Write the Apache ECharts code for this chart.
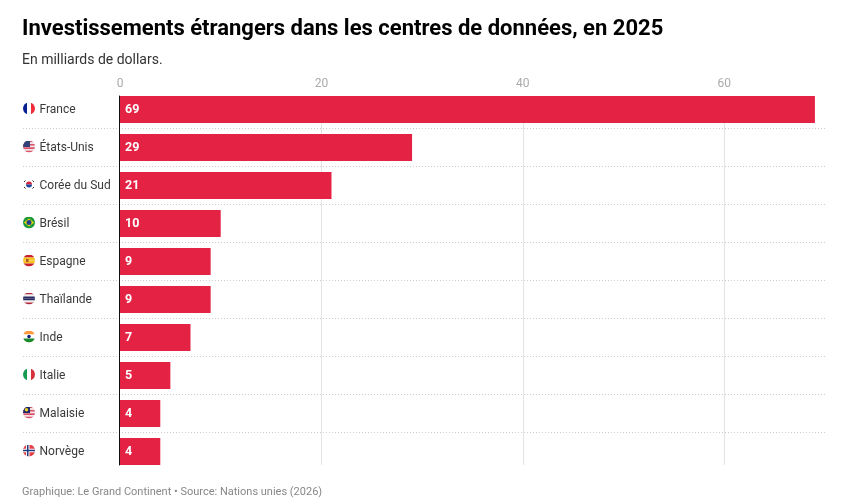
<!DOCTYPE html>
<html><head><meta charset="utf-8">
<style>html,body{margin:0;padding:0;background:#fff}#c{width:863px;height:503px}</style>
<script src="https://cdn.jsdelivr.net/npm/echarts@6/dist/echarts.min.js"></script>
</head><body><div id="c"></div>
<script>
const countries = ["France","États-Unis","Corée du Sud","Brésil","Espagne","Thaïlande","Inde","Italie","Malaisie","Norvège"];
const values = [69,29,21,10,9,9,7,5,4,4];
const flagKeys = ["fr","us","kr","br","es","th","in","it","my","no"];
const titleText = "Investissements étrangers dans les centres de données, en 2025";
const subtitleText = "En milliards de dollars.";
const footerText = "Graphique: Le Grand Continent • Source: Nations unies (2026)";

const stripesH = (cols)=>{const h=24/cols.length;return cols.map((c,i)=>`<rect x="0" y="${i*h}" width="24" height="${h+0.2}" fill="${c}"/>`).join('')};
const stripesV = (cols)=>{const w=24/cols.length;return cols.map((c,i)=>`<rect x="${i*w}" y="0" width="${w+0.2}" height="24" fill="${c}"/>`).join('')};
const usStripes = stripesH(["#d8536a","#f3e3e6","#d8536a","#f3e3e6","#d8536a","#f3e3e6","#d8536a"]);
const flagArt = {
  fr: stripesV(["#0a1f8f","#ffffff","#ef2b3c"]),
  us: usStripes+'<rect width="14" height="13" fill="#33407a"/>',
  kr: '<rect width="24" height="24" fill="#fff"/><path d="M6 12a6 6 0 0 1 12 0z" fill="#d8243c"/><path d="M6 12a6 6 0 0 0 12 0z" fill="#1f4a9c"/><g stroke="#222" stroke-width="2"><path d="M2 7l3-3M19 4l3 3M2 17l3 3M19 20l3-3"/></g>',
  br: '<rect width="24" height="24" fill="#1a9a3c"/><path d="M12 4l10 8-10 8-10-8z" fill="#f5d90a"/><circle cx="12" cy="12" r="5" fill="#1f3f8f"/>',
  es: stripesH(["#c8202c","#f6c324","#f6c324","#c8202c"])+'<rect x="6" y="9" width="5" height="6" fill="#b5532a"/>',
  th: stripesH(["#b0263a","#f4f0f0","#252a60","#252a60","#f4f0f0","#b0263a"]),
  in: stripesH(["#ff9a3c","#ffffff","#1a8a2c"])+'<circle cx="12" cy="12" r="3.4" fill="#10207a"/>',
  it: stripesV(["#149a50","#ffffff","#d8303c"]),
  my: usStripes+'<rect width="14" height="13" fill="#1a2a6c"/><circle cx="7" cy="6.5" r="3.4" fill="#f5d020"/>',
  no: '<rect width="24" height="24" fill="#e5404a"/><rect x="6" width="7" height="24" fill="#fff"/><rect y="8.5" width="24" height="7" fill="#fff"/><rect x="8" width="3" height="24" fill="#1e3a80"/><rect y="10.5" width="24" height="3" fill="#1e3a80"/>'
};
const flagUri = (k)=>'data:image/svg+xml;charset=utf-8,'+encodeURIComponent(
 `<svg xmlns="http://www.w3.org/2000/svg" width="48" height="56" viewBox="0 0 24 28"><defs><clipPath id="c"><circle cx="12" cy="12" r="12"/></clipPath></defs><g clip-path="url(#c)">${flagArt[k]}</g></svg>`);
const rich = {name:{fontFamily:'Roboto',fontSize:12,color:'#3a3a3a',padding:[0,0,0,4.5]}};
flagKeys.forEach(k=>{rich[k]={width:12,height:14,backgroundColor:{image:flagUri(k)}}});

const font='Roboto';
const chart = echarts.init(document.getElementById('c'),null,{renderer:'canvas'});
chart.setOption({
  animation:false,
  backgroundColor:'#fff',
  title:[
    {text:titleText,left:22,top:18,padding:0,textStyle:{fontFamily:font,fontSize:22,fontWeight:700,color:'#000'}},
    {text:subtitleText,left:22,top:53,padding:0,textStyle:{fontFamily:font,fontSize:14,fontWeight:400,color:'#333'}},
    {text:footerText,left:22,top:487,padding:0,textStyle:{fontFamily:font,fontSize:11,fontWeight:400,color:'#888'}}
  ],
  grid:[
    {left:23,width:802,top:90.5,height:380},
    {left:120,width:705,top:96,height:369},
    {left:120,width:705,top:90.5,height:380}
  ],
  xAxis:[
    {gridIndex:0,type:'value',min:0,max:1,show:false},
    {gridIndex:1,type:'value',position:'top',min:0,max:70,interval:20,
      axisLine:{show:false},axisTick:{show:false},
      axisLabel:{fontFamily:font,fontSize:12,color:'#aaa',margin:6,showMaxLabel:false},
      splitLine:{show:true,showMinLine:false,showMaxLine:false,lineStyle:{color:'#e4e4e4',width:1}}},
    {gridIndex:2,type:'value',min:0,max:70,show:false}
  ],
  yAxis:[
    {gridIndex:0,type:'category',inverse:true,data:countries,axisLine:{show:false},axisTick:{show:false},axisLabel:{show:false},
      splitLine:{show:true,showMinLine:false,showMaxLine:false,lineStyle:{color:'#ccc',type:[1,2],width:1}}},
    {gridIndex:1,type:'value',min:0,max:1,offset:1,
      axisLine:{show:true,onZero:false,lineStyle:{color:'#111',width:1}},axisTick:{show:false},axisLabel:{show:false},splitLine:{show:false}},
    {gridIndex:2,type:'category',inverse:true,data:countries,z:5,axisLine:{show:false},axisTick:{show:false},
      axisLabel:{margin:97,align:'left',interval:0,rich,
        formatter:(v,i)=>`{${flagKeys[i]}|}{name|${v}}`}}
  ],
  series:[{
    type:'bar',xAxisIndex:2,yAxisIndex:2,data:values,barWidth:27,z:4,
    itemStyle:{color:'#E42244'},
    label:{show:true,position:'insideLeft',distance:5,fontFamily:font,fontSize:12.5,fontWeight:700,color:'#fff'}
  }]
});
</script></body></html>
